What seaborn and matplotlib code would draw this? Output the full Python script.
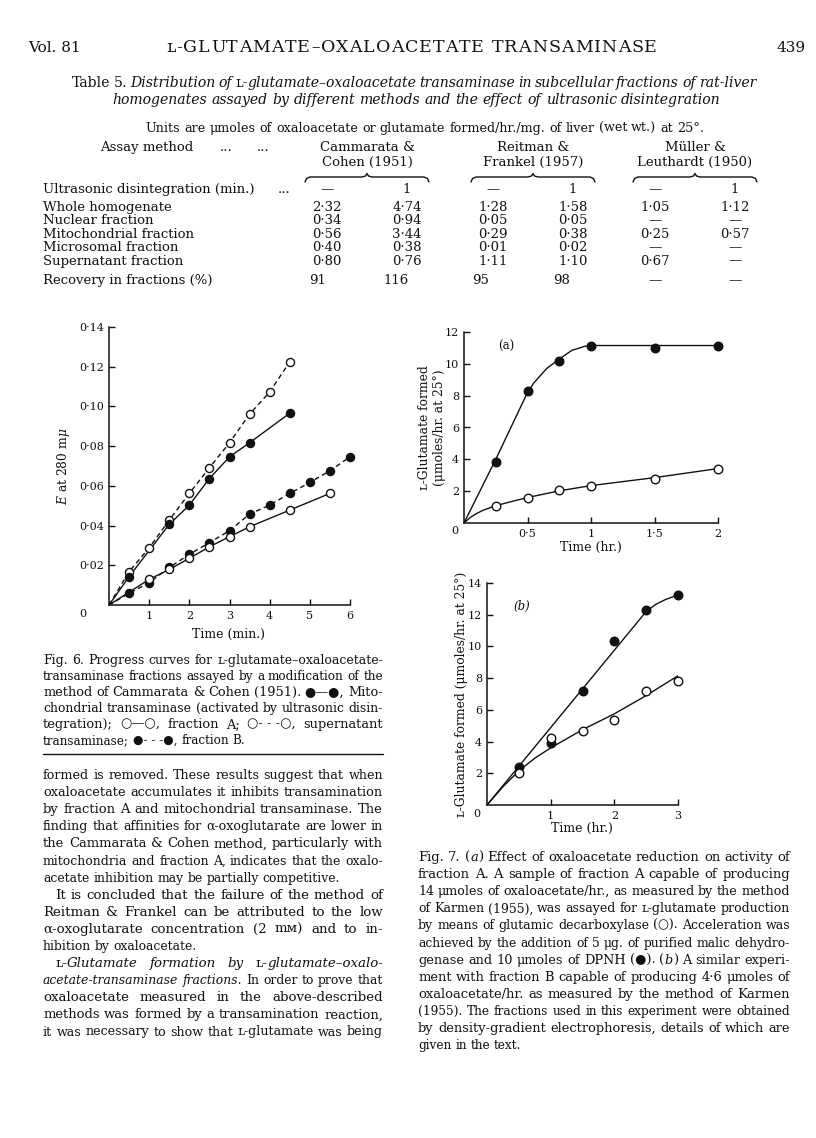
import numpy as np
import pandas as pd
import matplotlib
matplotlib.use("Agg")
import matplotlib.pyplot as plt
from matplotlib.ticker import FuncFormatter
import seaborn as sns

# ---------------- data ----------------
# Fig. 6: E at 280 mu against time (min.)
mito_t = [0.5, 1.5, 2, 2.5, 3, 3.5, 4.5]
mito_e = [0.0143, 0.0406, 0.0503, 0.0637, 0.0746, 0.0817, 0.0966]
super_t = [0.5, 1, 1.5, 2, 2.5, 3, 3.5, 4, 4.5]
super_e = [0.0168, 0.0288, 0.0428, 0.0562, 0.0691, 0.0817, 0.0961, 0.1073, 0.1224]
fracA_t = [1, 1.5, 2, 2.5, 3, 3.5, 4.5, 5.5]
fracA_e = [0.0129, 0.0179, 0.0235, 0.0293, 0.0344, 0.0394, 0.0478, 0.0562]
fracB_t = [0.5, 1, 1.5, 2, 2.5, 3, 3.5, 4, 4.5, 5, 5.5, 6]
fracB_e = [0.0059, 0.0112, 0.0189, 0.0255, 0.0314, 0.0374, 0.0458, 0.0503, 0.0562, 0.0617, 0.0676, 0.0746]

# Fig. 7a: L-glutamate formed, fraction A
a_t = [0.25, 0.5, 0.75, 1, 1.5, 2]
a_dpnh = [3.84, 8.3, 10.15, 11.15, 10.99, 11.13]
a_decarb = [1.07, 1.58, 2.06, 2.33, 2.79, 3.42]
# hand drawn curves through the points
a_dpnh_curve_t = [0, 0.25, 0.5, 0.55, 0.65, 0.75, 0.85, 0.95, 1.0, 2.0]
a_dpnh_curve = [0, 4.0, 8.2, 8.8, 9.7, 10.3, 10.85, 11.1, 11.15, 11.15]
a_decarb_curve_t = [0, 0.05, 0.1, 0.15, 0.2, 0.25, 0.35, 0.5, 0.75, 1, 1.5, 2]
a_decarb_curve = [0, 0.35, 0.6, 0.8, 0.95, 1.08, 1.3, 1.6, 2.02, 2.35, 2.85, 3.42]

# Fig. 7b: fraction B
b_t = [0.5, 1, 1.5, 2, 2.5, 3]
b_dpnh = [2.42, 3.94, 7.22, 10.36, 12.27, 13.22]
b_decarb = [2.0, 4.21, 4.69, 5.37, 7.16, 7.83]
b_dpnh_curve_t = [0, 2.5, 2.65, 2.8, 2.9, 3.0]
b_dpnh_curve = [0, 12.2, 12.65, 12.95, 13.1, 13.25]
b_decarb_curve_t = [0, 0.25, 0.5, 0.75, 1, 1.5, 2, 2.5, 3]
b_decarb_curve = [0, 1.15, 2.15, 2.95, 3.6, 4.75, 5.75, 6.9, 8.15]

# Table 5
row_names = ["Whole homogenate", "Nuclear fraction", "Mitochondrial fraction",
             "Microsomal fraction", "Supernatant fraction"]
cammarata_0 = ["2·32", "0·34", "0·56", "0·40", "0·80"]
cammarata_1 = ["4·74", "0·94", "3·44", "0·38", "0·76"]
reitman_0 = ["1·28", "0·05", "0·29", "0·01", "1·11"]
reitman_1 = ["1·58", "0·05", "0·38", "0·02", "1·10"]
muller_0 = ["1·05", "—", "0·25", "—", "0·67"]
muller_1 = ["1·12", "—", "0·57", "—", "—"]
ultrasonic = ["—", "1", "—", "1", "—", "1"]
recovery = ["91", "116", "95", "98", "—", "—"]
groups = [("Cammarata &", "Cohen (1951)"), ("Reitman &", "Frankel (1957)"),
          ("Müller &", "Leuthardt (1950)")]

# ---------------- page setup ----------------
sns.set_style("ticks")
plt.rcParams["font.family"] = ["DejaVu Serif", "DejaVu Sans"]
plt.rcParams["mathtext.fontset"] = "dejavuserif"
INK = "#111111"

W, H = 816, 1138
fig = plt.figure(figsize=(W / 100, H / 100), dpi=100)
page = fig.add_axes([0, 0, 1, 1])
page.set_xlim(0, W)
page.set_ylim(H, 0)
page.axis("off")
renderer = fig.canvas.get_renderer()


def width_of(s, size, style="normal"):
    t = page.text(0, 0, s, size=size, style=style)
    w = t.get_window_extent(renderer).width
    t.remove()
    return w


def parse(line):
    # '_' toggles italic
    italic = False
    words = []
    for w in line.split(" "):
        segs = []
        for i, p in enumerate(w.split("_")):
            if i > 0:
                italic = not italic
            if p:
                segs.append((p, italic))
        words.append(segs)
    return words


def measure(line, size):
    words = parse(line)
    widths = [[width_of(t, size, "italic" if it else "normal") for t, it in segs] for segs in words]
    space = width_of("a a", size) - width_of("aa", size)
    return words, widths, space


def natural(line, size):
    words, widths, space = measure(line, size)
    return sum(sum(ws) for ws in widths) + space * (len(words) - 1)


def put_line(line, x0, x1, y, size, justify=True, indent=0, align="left"):
    words, widths, space = measure(line, size)
    totals = [sum(ws) for ws in widths]
    start = x0 + indent
    gap = space
    if justify and len(words) > 1:
        gap = (x1 - start - sum(totals)) / (len(words) - 1)
    full = sum(totals) + gap * (len(words) - 1)
    if align == "center":
        start = (x0 + x1) / 2 - full / 2
    elif align == "right":
        start = x1 - full
    x = start
    for segs, ws in zip(words, widths):
        xx = x
        for (t, it), w in zip(segs, ws):
            page.text(xx, y, t, size=size, style="italic" if it else "normal",
                      va="baseline", ha="left", color=INK)
            xx += w
        x += sum(ws) + gap


def put_block(block, x0, x1, y0, step, base, grow=1.08):
    # block size from the tightest line, loose lines may grow a little
    fits = [base * (x1 - x0 - ind) / natural(ln, base) for ln, just, ind in block if just]
    size = min(fits)
    for i, (ln, just, ind) in enumerate(block):
        s = size
        if just:
            s = min(base * (x1 - x0 - ind) / natural(ln, base), size * grow)
        put_line(ln, x0, x1, y0 + i * step, s, justify=just, indent=ind)


def spaced(text, x0, x1, y, size):
    # letter-spaced running head, centred characters on an even pitch
    base = width_of("HH", size)
    ws = [width_of("H" + c + "H", size) - base for c in text]
    extra = (x1 - x0 - sum(ws)) / (len(text) - 1)
    x = x0
    for c, w in zip(text, ws):
        page.text(x + w / 2, y, c, size=size, va="baseline", ha="center", color=INK)
        x += w + extra


def brace(x0, x1, y):
    xm = (x0 + x1) / 2
    xs = [x0, x0 + 1.5, x0 + 5, xm - 5, xm - 1.5, xm, xm + 1.5, xm + 5, x1 - 5, x1 - 1.5, x1]
    ys = [y + 5, y + 1.5, y, y, y - 1, y - 3.5, y - 1, y, y, y + 1.5, y + 5]
    page.plot(xs, ys, color=INK, lw=1.0)


# ---------------- running head ----------------
page.text(28, 52, "Vol. 81", size=11, va="baseline", color=INK)
spaced("ʟ-GLUTAMATE–OXALOACETATE TRANSAMINASE", 166, 657, 52, 12.5)
page.text(806, 52, "439", size=11, va="baseline", ha="right", color=INK)

# ---------------- Table 5 ----------------
put_line("Table 5. _Distribution of_ ʟ-_glutamate–oxaloacetate transaminase in subcellular fractions of rat-liver_",
         72, 756, 87, 10.1, justify=True)
put_line("_homogenates assayed by different methods and the effect of ultrasonic disintegration_",
         43, 790, 104, 10.1, justify=False, align="center")
put_line("Units are μmoles of oxaloacetate or glutamate formed/hr./mg. of liver (wet wt.) at 25°.",
         50, 800, 132, 9.2, justify=False, align="center")

TS = 9.5
col_x = [327, 407, 493, 573, 655, 735]
group_x = [(col_x[0] + col_x[1]) / 2, (col_x[2] + col_x[3]) / 2, (col_x[4] + col_x[5]) / 2]
page.text(100, 151, "Assay method", size=TS, va="baseline", color=INK)
page.text(226, 151, "...", size=TS, va="baseline", ha="center", color=INK)
page.text(263, 151, "...", size=TS, va="baseline", ha="center", color=INK)
for gx, (l1, l2) in zip(group_x, groups):
    page.text(gx, 151, l1, size=TS, va="baseline", ha="center", color=INK)
    page.text(gx, 166, l2, size=TS, va="baseline", ha="center", color=INK)
    brace(gx - 62, gx + 62, 177)

page.text(43, 193, "Ultrasonic disintegration (min.)", size=TS, va="baseline", color=INK)
page.text(284, 193, "...", size=TS, va="baseline", ha="center", color=INK)
for cx, v in zip(col_x, ultrasonic):
    page.text(cx, 193, v, size=TS, va="baseline", ha="center", color=INK)

row_y = [211, 224, 237.5, 251, 264.5]
cols = [cammarata_0, cammarata_1, reitman_0, reitman_1, muller_0, muller_1]
for i, (name, ry) in enumerate(zip(row_names, row_y)):
    page.text(43, ry, name, size=TS, va="baseline", color=INK)
    for cx, col in zip(col_x, cols):
        page.text(cx, ry, col[i], size=TS, va="baseline", ha="center", color=INK)

page.text(43, 284, "Recovery in fractions (%)", size=TS, va="baseline", color=INK)
for cx, v in zip([318, 396, 481, 562, 655, 735], recovery):
    page.text(cx, 284, v, size=TS, va="baseline", ha="center", color=INK)


# ---------------- figures ----------------
def px_axes(l, t, r, b):
    return fig.add_axes([l / W, 1 - b / H, (r - l) / W, (b - t) / H])


def style_axes(ax, box, xticks, yticks, xfmt, yfmt, xlab, xlab_xy, ylab, ylab_xy, zero_xy):
    l, t, r, b = box
    sns.despine(ax=ax)
    ax.patch.set_alpha(0)
    ax.set_xticks(xticks)
    ax.set_yticks(yticks)
    ax.xaxis.set_major_formatter(FuncFormatter(xfmt))
    ax.yaxis.set_major_formatter(FuncFormatter(yfmt))
    ax.tick_params(direction="in", length=4, width=1.0, labelsize=8, colors=INK)
    ax.tick_params(axis="y", pad=3.5)
    ax.tick_params(axis="x", pad=4)
    for s in ["left", "bottom"]:
        ax.spines[s].set_linewidth(1.1)
        ax.spines[s].set_color(INK)
    ax.set_xlabel(xlab, fontsize=9, color=INK)
    ax.xaxis.set_label_coords((xlab_xy[0] - l) / (r - l), (b - xlab_xy[1]) / (b - t))
    ax.xaxis.label.set_va("center")
    ax.set_ylabel(ylab, fontsize=8.8, color=INK, linespacing=1.15)
    ax.yaxis.set_label_coords((ylab_xy[0] - l) / (r - l), (b - ylab_xy[1]) / (b - t))
    ax.yaxis.label.set_va("center")
    page.text(zero_xy[0], zero_xy[1], "0", size=8, ha="center", va="center", color=INK)


def dot_fmt(nd):
    return lambda v, p: (f"{v:.{nd}f}" if nd else f"{v:g}").replace(".", "·")


def series(ax, xs, ys, filled, dashed):
    sns.lineplot(x=[0] + xs, y=[0] + ys, ax=ax, color=INK, linewidth=1.0,
                 linestyle=(0, (3.5, 2.5)) if dashed else "-", estimator=None, sort=False)
    sns.scatterplot(x=xs, y=ys, ax=ax, s=34, color=INK if filled else "white",
                    edgecolor=INK, linewidth=1.0, zorder=3, clip_on=False, legend=False)


def curve(ax, cx, cy, xs, ys, filled):
    sns.lineplot(x=cx, y=cy, ax=ax, color=INK, linewidth=1.0, estimator=None, sort=False)
    sns.scatterplot(x=xs, y=ys, ax=ax, s=38, color=INK if filled else "white",
                    edgecolor=INK, linewidth=1.0, zorder=3, clip_on=False, legend=False)


# Fig. 6
box6 = (109, 327, 350, 605)
ax6 = px_axes(*box6)
series(ax6, super_t, super_e, filled=False, dashed=True)
series(ax6, mito_t, mito_e, filled=True, dashed=False)
series(ax6, fracB_t, fracB_e, filled=True, dashed=True)
series(ax6, fracA_t, fracA_e, filled=False, dashed=False)
ax6.set_xlim(0, 6)
ax6.set_ylim(0, 0.14)
style_axes(ax6, box6, range(1, 7), np.arange(0.02, 0.141, 0.02), dot_fmt(0), dot_fmt(2),
           "Time (min.)", (229, 634), r"$E$ at 280 m$\mu$", (63, 466), (83, 614))

# Fig. 7a
box7a = (464, 332, 718, 523)
ax7a = px_axes(*box7a)
curve(ax7a, a_dpnh_curve_t, a_dpnh_curve, a_t, a_dpnh, filled=True)
curve(ax7a, a_decarb_curve_t, a_decarb_curve, a_t, a_decarb, filled=False)
ax7a.set_xlim(0, 2)
ax7a.set_ylim(0, 12)
style_axes(ax7a, box7a, [0.5, 1, 1.5, 2], range(2, 13, 2), dot_fmt(0), dot_fmt(0),
           "Time (hr.)", (591, 547), "ʟ-Glutamate formed\n(μmoles/hr. at 25°)", (432, 428), (455, 531))
ax7a.text(0.27, 11.1, "(a)", fontsize=8.5, color=INK, va="center")

# Fig. 7b
box7b = (487, 583, 678, 805)
ax7b = px_axes(*box7b)
curve(ax7b, b_dpnh_curve_t, b_dpnh_curve, b_t, b_dpnh, filled=True)
curve(ax7b, b_decarb_curve_t, b_decarb_curve, b_t, b_decarb, filled=False)
ax7b.set_xlim(0, 3)
ax7b.set_ylim(0, 14)
style_axes(ax7b, box7b, [1, 2, 3], range(2, 15, 2), dot_fmt(0), dot_fmt(0),
           "Time (hr.)", (582, 828), "ʟ-Glutamate formed (μmoles/hr. at 25°)", (462, 694), (477, 814))
ax7b.text(0.42, 12.5, "(b)", fontsize=8.5, style="italic", color=INK, va="center")

# ---------------- captions and running text ----------------
fig6_caption = [
    ("Fig. 6. Progress curves for ʟ-glutamate–oxaloacetate-", True, 0),
    ("transaminase fractions assayed by a modification of the", True, 0),
    ("method of Cammarata & Cohen (1951). ●—●, Mito-", True, 0),
    ("chondrial transaminase (activated by ultrasonic disin-", True, 0),
    ("tegration); ○—○, fraction A; ○-\u00a0-\u00a0-○, supernatant", True, 0),
    ("transaminase; ●-\u00a0-\u00a0-●, fraction B.", False, 0),
]
put_block(fig6_caption, 43, 383, 664, 16, 9)
page.plot([43, 383], [754, 754], color=INK, lw=1.0)

body = [
    ("formed is removed. These results suggest that when", True, 0),
    ("oxaloacetate accumulates it inhibits transamination", True, 0),
    ("by fraction A and mitochondrial transaminase. The", True, 0),
    ("finding that affinities for α-oxoglutarate are lower in", True, 0),
    ("the Cammarata & Cohen method, particularly with", True, 0),
    ("mitochondria and fraction A, indicates that the oxalo-", True, 0),
    ("acetate inhibition may be partially competitive.", False, 0),
    ("It is concluded that the failure of the method of", True, 12),
    ("Reitman & Frankel can be attributed to the low", True, 0),
    ("α-oxoglutarate concentration (2 mᴍ) and to in-", True, 0),
    ("hibition by oxaloacetate.", False, 0),
    ("ʟ-_Glutamate formation by_ ʟ-_glutamate–oxalo-_", True, 12),
    ("_acetate-transaminase fractions._ In order to prove that", True, 0),
    ("oxaloacetate measured in the above-described", True, 0),
    ("methods was formed by a transamination reaction,", True, 0),
    ("it was necessary to show that ʟ-glutamate was being", True, 0),
]
put_block(body, 43, 383, 779, 17.1, 10)

fig7_caption = [
    ("Fig. 7. (_a_) Effect of oxaloacetate reduction on activity of", True, 0),
    ("fraction A. A sample of fraction A capable of producing", True, 0),
    ("14 μmoles of oxaloacetate/hr., as measured by the method", True, 0),
    ("of Karmen (1955), was assayed for ʟ-glutamate production", True, 0),
    ("by means of glutamic decarboxylase (○). Acceleration was", True, 0),
    ("achieved by the addition of 5 μg. of purified malic dehydro-", True, 0),
    ("genase and 10 μmoles of DPNH (●). (_b_) A similar experi-", True, 0),
    ("ment with fraction B capable of producing 4·6 μmoles of", True, 0),
    ("oxaloacetate/hr. as measured by the method of Karmen", True, 0),
    ("(1955). The fractions used in this experiment were obtained", True, 0),
    ("by density-gradient electrophoresis, details of which are", True, 0),
    ("given in the text.", False, 0),
]
put_block(fig7_caption, 418, 790, 861, 17.1, 9)

fig.savefig("out.png", dpi=100)
